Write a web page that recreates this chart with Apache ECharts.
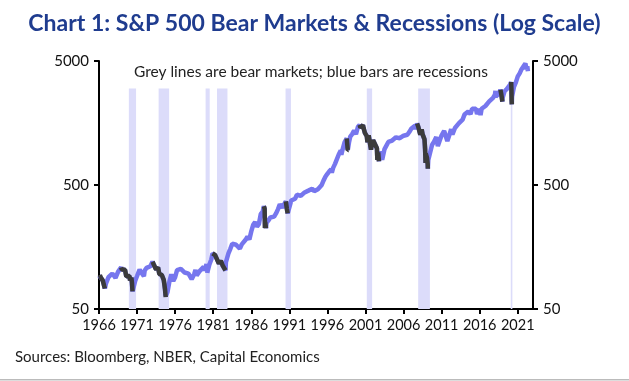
<!DOCTYPE html>
<html>
<head>
<meta charset="utf-8">
<script src="https://cdn.jsdelivr.net/npm/echarts@6/dist/echarts.min.js"></script>
<style>
html,body{margin:0;padding:0;background:#fff;}
#c{width:629px;height:381px;}
</style>
</head>
<body>
<div id="c"></div>
<script>
// ---- data (decimal years, S&P 500 index level) ----
const years = [
1966.00,1966.11,1966.25,1966.42,1966.50,1966.58,1966.67,1966.77,1966.92,1967.00,
1967.25,1967.50,1967.75,1968.00,1968.17,1968.50,1968.75,1968.91,1969.00,1969.25,
1969.42,1969.58,1969.75,1970.00,1970.08,1970.25,1970.33,1970.40,1970.50,1970.75,
1971.00,1971.33,1971.50,1971.75,1971.90,1972.00,1972.25,1972.50,1972.75,1973.03,
1973.25,1973.50,1973.75,1973.92,1974.00,1974.25,1974.50,1974.58,1974.67,1974.75,
1974.76,1975.00,1975.25,1975.50,1975.75,1976.00,1976.25,1976.50,1976.75,1977.00,
1977.25,1977.50,1977.75,1978.00,1978.17,1978.50,1978.67,1978.83,1979.00,1979.25,
1979.50,1979.75,1979.83,1980.00,1980.12,1980.22,1980.50,1980.75,1980.91,1981.00,
1981.25,1981.50,1981.75,1982.00,1982.25,1982.50,1982.61,1982.67,1982.75,1983.00,
1983.25,1983.50,1983.75,1984.00,1984.25,1984.50,1984.75,1985.00,1985.25,1985.50,
1985.75,1986.00,1986.25,1986.50,1986.75,1987.00,1987.25,1987.50,1987.65,1987.75,
1987.80,1987.83,1987.93,1988.00,1988.25,1988.50,1988.75,1989.00,1989.25,1989.50,
1989.75,1990.00,1990.08,1990.25,1990.54,1990.67,1990.78,1990.83,1991.00,1991.25,
1991.50,1991.75,1992.00,1992.25,1992.50,1992.75,1993.00,1993.25,1993.50,1993.75,
1994.00,1994.25,1994.50,1994.75,1995.00,1995.25,1995.50,1995.75,1996.00,1996.25,
1996.50,1996.58,1996.75,1997.00,1997.25,1997.50,1997.75,1997.83,1998.00,1998.25,
1998.50,1998.54,1998.67,1998.77,1998.83,1999.00,1999.25,1999.50,1999.75,2000.00,
2000.23,2000.33,2000.50,2000.67,2000.75,2000.92,2001.00,2001.17,2001.26,2001.42,
2001.50,2001.72,2001.83,2002.00,2002.25,2002.50,2002.56,2002.67,2002.77,2002.92,
2003.00,2003.19,2003.50,2003.75,2004.00,2004.25,2004.50,2004.75,2005.00,2005.25,
2005.50,2005.75,2006.00,2006.25,2006.50,2006.75,2007.00,2007.25,2007.50,2007.62,
2007.77,2007.92,2008.00,2008.20,2008.38,2008.50,2008.75,2008.83,2008.89,2008.92,
2009.00,2009.08,2009.17,2009.19,2009.25,2009.50,2009.75,2010.00,2010.30,2010.50,
2010.75,2011.00,2011.33,2011.50,2011.75,2011.76,2012.00,2012.25,2012.42,2012.75,
2013.00,2013.25,2013.50,2013.75,2014.00,2014.25,2014.50,2014.79,2015.00,2015.25,
2015.50,2015.65,2015.75,2016.00,2016.11,2016.25,2016.50,2016.75,2017.00,2017.25,
2017.50,2017.75,2018.00,2018.07,2018.10,2018.25,2018.50,2018.72,2018.83,2018.92,
2018.98,2019.00,2019.25,2019.38,2019.50,2019.60,2019.75,2020.00,2020.13,2020.17,
2020.20,2020.22,2020.25,2020.50,2020.75,2021.00,2021.25,2021.50,2021.75,2022.00,
2022.01,2022.08,2022.14,2022.17,2022.25,2022.33,2022.38
];
const spx = [
92.9,94.1,89.2,86.1,84.7,83.6,77.1,73.2,80.5,80.3,
90.2,90.6,96.7,96.5,89.0,99.6,102.7,108.4,103.9,101.5,
103.5,91.8,93.1,92.1,85.0,89.6,81.5,69.3,72.7,84.3,
92.2,104.0,99.7,98.3,92.0,102.1,107.2,107.1,110.6,120.2,
112.0,104.3,108.4,96.0,97.6,94.0,86.0,79.3,72.2,63.5,
62.3,68.6,83.4,95.2,83.9,90.2,102.8,104.3,105.2,107.5,
98.4,100.5,96.5,95.1,86.9,95.5,103.3,93.2,96.1,101.6,
102.9,109.3,101.8,107.9,115.0,98.2,114.2,125.5,140.5,135.8,
136.0,131.2,116.2,122.6,112.0,109.6,102.4,119.5,120.4,140.6,
153.0,168.1,166.1,164.9,159.2,153.2,166.1,167.2,180.7,191.9,
182.1,211.3,238.9,250.8,231.3,242.2,291.7,304.0,336.8,321.8,
224.8,251.8,223.9,247.1,258.9,273.5,271.9,277.7,294.9,318.0,
349.2,353.4,329.1,339.9,369.0,322.6,295.5,304.0,330.2,375.2,
371.2,387.9,417.1,403.7,408.1,417.8,435.7,451.7,450.5,458.9,
466.5,445.8,444.3,462.7,459.3,500.7,544.8,584.4,615.9,645.5,
670.6,630.0,687.3,740.7,757.1,885.1,947.3,876.0,970.4,1101.8,
1133.8,1186.8,957.3,959.4,1098.7,1229.2,1286.4,1372.7,1282.7,1469.3,
1527.5,1452.0,1454.6,1517.7,1436.5,1315.0,1320.3,1239.9,1103.3,1255.8,
1224.4,965.8,1059.0,1148.1,1147.4,989.8,797.7,916.0,776.8,936.0,
879.8,800.7,974.5,996.0,1111.9,1126.2,1140.8,1114.6,1211.9,1180.6,
1191.3,1228.8,1248.3,1294.8,1270.2,1335.9,1418.3,1420.9,1503.4,1406.0,
1565.2,1481.0,1468.4,1273.0,1400.4,1280.0,1166.4,968.8,752.4,896.2,
903.3,825.9,735.1,676.5,797.9,919.3,1057.1,1115.1,1217.0,1030.7,
1141.2,1257.6,1363.0,1320.6,1131.4,1099.2,1257.6,1408.5,1278.0,1440.7,
1426.2,1569.2,1606.3,1681.6,1848.4,1872.3,1960.2,1862.0,2058.9,2067.9,
2063.1,1867.6,1920.0,2043.9,1829.1,2059.7,2098.9,2168.3,2238.8,2362.7,
2423.4,2519.4,2673.6,2872.9,2581.0,2640.9,2718.4,2930.8,2711.7,2760.2,
2351.1,2506.9,2834.4,2752.0,2941.8,2847.0,2976.7,3230.8,3386.2,2954.0,
2386.0,2237.4,2584.6,3100.3,3363.0,3756.1,3972.9,4297.5,4307.5,4766.2,
4796.6,4515.6,4288.0,4373.9,4530.4,4131.9,4100.0
];
const bearMarkets = [
[1966.11,1966.77],[1968.91,1970.40],[1973.03,1974.76],[1980.91,1982.61],
[1987.65,1987.93],[1990.54,1990.78],[1998.54,1998.77],[2000.23,2002.77],
[2007.77,2009.19],[2018.72,2018.98],[2020.13,2020.22]
];
const recessions = [
[1969.92,1970.87],[1973.83,1975.21],[1980.00,1980.54],[1981.50,1982.87],
[1990.50,1991.21],[2001.17,2001.87],[2007.92,2009.46],[2020.08,2020.29]
];
const xTickLabels = [1966,1971,1976,1981,1986,1991,1996,2001,2006,2011,2016,2021];
const yTickLabels = [50,500,5000];
const recessionTop = 3000;

// ---- build series ----
const mainData = years.map((y,i)=>[y, spx[i]]);
const bearData = [];
bearMarkets.forEach(([s,e])=>{
  years.forEach((y,i)=>{ if (y>=s-1e-9 && y<=e+1e-9) bearData.push([y, spx[i]]); });
  bearData.push([e+0.001, null]);
});
const recAreas = recessions.map(([s,e])=>[{xAxis:s, yAxis:50},{xAxis:e, yAxis:recessionTop}]);

const FONT = 'Lato';
const yAxisBase = {
  type:'log', logBase:10, min:50, max:5000,
  axisLine:{show:true, lineStyle:{color:'#000', width:2}},
  axisTick:{show:true, length:5, lineStyle:{color:'#000', width:2}, customValues: yTickLabels},
  axisLabel:{color:'#111', fontFamily:FONT, fontSize:15, margin:10, customValues: yTickLabels, formatter:v=>String(Math.round(v))},
  splitLine:{show:false}, minorTick:{show:false}
};

const chart = echarts.init(document.getElementById('c'), null, {renderer:'canvas'});
chart.setOption({
  animation:false,
  backgroundColor:'#fff',
  title:{
    text:'Chart 1: S&P 500 Bear Markets & Recessions (Log Scale)',
    left:'center', top:7,
    textStyle:{color:'#1f3c8f', fontFamily:FONT, fontWeight:'bold', fontSize:23}
  },
  grid:{left:99, right:96, top:61, bottom:72},
  xAxis:{
    type:'value', min:1966, max:2023,
    axisLine:{show:true, onZero:false, lineStyle:{color:'#000', width:2}},
    axisTick:{show:true, length:5, lineStyle:{color:'#000', width:2}, customValues: xTickLabels},
    axisLabel:{color:'#111', fontFamily:FONT, fontSize:14.5, margin:9, customValues: xTickLabels, formatter:v=>String(Math.round(v))},
    splitLine:{show:false}
  },
  yAxis:[
    Object.assign({}, yAxisBase, {position:'left'}),
    Object.assign({}, yAxisBase, {position:'right'})
  ],
  graphic:[
    {type:'text', left:134, top:64, style:{text:'Grey lines are bear markets; blue bars are recessions', fill:'#222', font:'15.5px Lato'}},
    {type:'text', left:15, top:350, style:{text:'Sources: Bloomberg, NBER, Capital Economics', fill:'#222', font:'15px Lato'}},
    {type:'rect', left:0, top:379, shape:{width:629, height:1.5}, style:{fill:'#bbb'}}
  ],
  series:[
    {
      type:'line', name:'S&P 500', data:mainData, showSymbol:false, yAxisIndex:0,
      lineStyle:{color:'#7676ee', width:4.5}, z:3,
      markArea:{silent:true, itemStyle:{color:'#dcdcfa'}, data:recAreas}
    },
    {
      type:'line', name:'Bear', data:bearData, showSymbol:false, yAxisIndex:0, connectNulls:false,
      lineStyle:{color:'#3b3b3b', width:4.5}, z:4
    }
  ]
});
</script>
</body>
</html>
